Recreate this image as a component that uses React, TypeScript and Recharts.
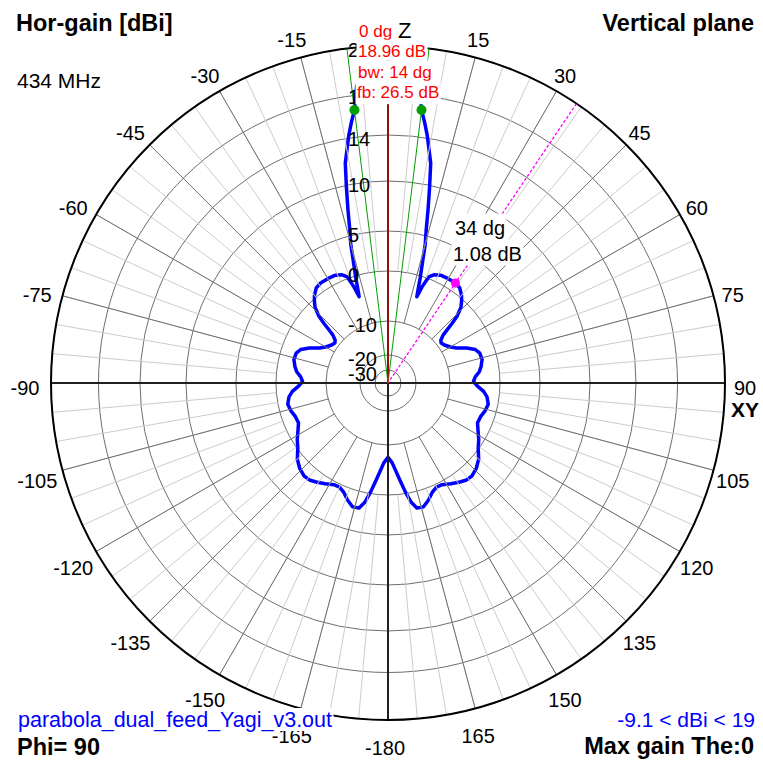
import React from 'react';
import { RadarChart, Radar, PolarGrid, PolarAngleAxis, PolarRadiusAxis } from 'recharts';

// ---------------- data (theta in degrees, gain in dBi) ----------------
const THETA_DEG = [
  -180, -177, -175, -173, -171, -169, -167, -164, -161, -158, -155, -152, -148, -144, -141, -138, -134, -130, -126, -122,
  -118, -114, -110, -106, -102, -98, -95, -92, -89, -86, -83, -80, -76, -72, -69, -66, -63, -60, -56, -53,
  -51, -49, -48, -47, -46, -44, -42, -40, -37, -34, -30, -26, -23, -21, -19.5, -18.5, -18, -17, -16, -15,
  -14, -13, -12, -11, -10, -9, -8, -7, -6.5, -6, -5, -4, -3, -2, -1,
  0, 1, 2, 3, 4, 5, 6, 6.5, 7, 8, 9, 10, 11, 12, 13, 14, 15, 16, 17, 18,
  18.5, 19.5, 21, 23, 26, 30, 34, 37, 40, 42, 44, 46, 47, 48, 49, 51, 53, 56, 60, 63,
  66, 69, 72, 76, 80, 83, 86, 89, 92, 95, 98, 102, 106, 110, 114, 118, 122, 126, 130, 134,
  138, 141, 144, 148, 152, 155, 158, 161, 164, 167, 169, 171, 173, 175, 177, 180,
];
const GAIN_DBI = [
  -7.54, -6.4, -4.8, -2.8, -0.4, 1.2, 2.05, 2.1, 1.5, 0.75, 0.35, 0.4, 0.85, 1.3, 1.6, 1.65, 1.35, 0.8, -0.1, -1.0,
  -2.0, -2.8, -2.7, -2.2, -1.9, -2.4, -3.2, -4.5, -5.3, -4.9, -4.0, -3.5, -3.0, -3.1, -3.7, -5.2, -7.0, -8.0, -8.8, -9.1,
  -8.8, -7.8, -6.5, -4.8, -3.2, -1.4, -0.4, 0.3, 0.9, 1.08, 1.06, 1.0, 0.7, 0.2, -2.0, -4.2, -3.2, -0.3, 1.6, 4.0,
  5.6, 7.6, 9.8, 11.9, 13.0, 14.2, 15.1, 15.96, 16.9, 17.6, 18.2, 18.55, 18.75, 18.88, 18.94,
  18.96, 18.94, 18.88, 18.75, 18.55, 18.2, 17.6, 16.9, 15.96, 15.1, 14.2, 13.0, 11.9, 9.8, 7.6, 5.6, 4.0, 1.6, -0.3, -3.2,
  -4.2, -2.0, 0.2, 0.7, 1.0, 1.06, 1.08, 0.9, 0.3, -0.4, -1.4, -3.2, -4.8, -6.5, -7.8, -8.8, -9.1, -8.8, -8.0, -7.0,
  -5.2, -3.7, -3.1, -3.0, -3.5, -4.0, -4.9, -5.3, -4.5, -3.2, -2.4, -1.9, -2.2, -2.7, -2.8, -2.0, -1.0, -0.1, 0.8, 1.35,
  1.65, 1.6, 1.3, 0.85, 0.4, 0.35, 0.75, 1.5, 2.1, 2.05, 1.2, -0.4, -2.8, -4.8, -6.4, -7.54,
];

// markers (angles on the pattern)
const MAX_GAIN_THETA = [0];
const BW_MARK_THETA = [-7, 7];
const SIDE_MARK_THETA = [34];

// axes / ticks
const ANGLE_LABEL_TICKS = [-180, -165, -150, -135, -120, -105, -90, -75, -60, -45, -30, -15, 15, 30, 45, 60, 75, 90, 105, 120, 135, 150, 165];
const RADIUS_TICKS = [-30, -20, -10, 0, 5, 10, 14, 17, 20];
const AXIS_SPOKES = [-90, 0, 90, 180];
const COARSE_SPOKES = [-165, -150, -135, -120, -105, -90, -75, -60, -45, -30, -15, 0, 15, 30, 45, 60, 75, 90, 105, 120, 135, 150, 165, 180];
const FINE_SPOKES = Array.from({ length: 72 }, (_, i) => -175 + i * 5);

// 4nec2-like gain scale knots (dB -> fraction of outer radius)
const SCALE_DB = [-40, -30, -20, -10, 0, 5, 10, 14, 17, 20];
const SCALE_FRAC = [0, 0.0386, 0.0831, 0.184, 0.3323, 0.451, 0.5994, 0.7359, 0.8591, 1];

// ---------------- layout ----------------
const W = 763;
const H = 761;
const CX = 388;
const CY = 383;
const R = 337;
const FONT = '"Liberation Sans", Arial, Helvetica, sans-serif';

function gainFrac(v: number) {
  if (v <= SCALE_DB[0]) return SCALE_FRAC[0];
  for (let i = 1; i < SCALE_DB.length; i++) {
    if (v <= SCALE_DB[i]) {
      const t = (v - SCALE_DB[i - 1]) / (SCALE_DB[i] - SCALE_DB[i - 1]);
      return SCALE_FRAC[i - 1] + t * (SCALE_FRAC[i] - SCALE_FRAC[i - 1]);
    }
  }
  return SCALE_FRAC[SCALE_FRAC.length - 1];
}

function makeGainScale(): any {
  let dom: any[] = [SCALE_DB[0], SCALE_DB[SCALE_DB.length - 1]];
  let rng: any[] = [0, 1];
  const scale: any = (v: any) => {
    const f = gainFrac(Number(v));
    return Number(rng[0]) + f * (Number(rng[1]) - Number(rng[0]));
  };
  scale.domain = (d?: any) => {
    if (d === undefined) return dom;
    dom = [...d];
    return scale;
  };
  scale.range = (r?: any) => {
    if (r === undefined) return rng;
    rng = [...r];
    return scale;
  };
  scale.copy = () => {
    const s = makeGainScale();
    s.domain(dom);
    s.range(rng);
    return s;
  };
  scale.ticks = () => RADIUS_TICKS;
  scale.tickFormat = () => (v: any) => String(v);
  return scale;
}
const gainScale = makeGainScale();

const rows = THETA_DEG.map((t, i) => ({ theta: t, gain: GAIN_DBI[i] }));

let ctx: CanvasRenderingContext2D | null = null;
function measure(text: string, font: string) {
  if (!ctx) ctx = document.createElement('canvas').getContext('2d');
  if (!ctx) return text.length * 10;
  ctx.font = font;
  return ctx.measureText(text).width;
}

function BoxText(props: any) {
  const { x, y, text, size, weight = 'normal', color = '#000', anchor = 'start', boxTop, boxBottom } = props;
  const w = measure(text, `${weight} ${size}px ${FONT}`);
  const left = anchor === 'end' ? x - w : x;
  return (
    <g>
      {boxTop !== undefined && (
        <rect x={left - 1.5} y={y + boxTop} width={w + 3} height={boxBottom - boxTop} fill="#ffffff" />
      )}
      <text x={x} y={y} fontSize={size} fontWeight={weight} fill={color} textAnchor={anchor} fontFamily={FONT}>
        {text}
      </text>
    </g>
  );
}

const AngleTick = (props: any) => {
  const { x, y, payload } = props;
  return (
    <text x={x - 3} y={y + 5} textAnchor="middle" dominantBaseline="central" fontSize={20} fontFamily={FONT} fill="#000">
      {String(payload.value)}
    </text>
  );
};

const RadiusTick = (props: any) => {
  const { y, payload } = props;
  return (
    <text x={CX - 40} y={y + 11} textAnchor="start" fontSize={20} fontFamily={FONT} fill="#000">
      {String(payload.value)}
    </text>
  );
};

const MarkerDot = (props: any) => {
  const { cx, cy, payload, index } = props;
  const row = payload && payload.payload ? payload.payload : payload;
  const theta = row ? row.theta : undefined;
  if (!Number.isFinite(cx) || !Number.isFinite(cy)) return <g key={`d${index}`} />;
  if (BW_MARK_THETA.includes(theta)) return <circle key={`d${index}`} cx={cx} cy={cy} r={5} fill="#00a000" />;
  if (SIDE_MARK_THETA.includes(theta)) return <circle key={`d${index}`} cx={cx} cy={cy} r={4.5} fill="#ff00ff" />;
  return <g key={`d${index}`} />;
};

export default function App() {
  const rZero = R * gainFrac(0);
  const rMinus10 = R * gainFrac(-10);
  return (
    <div style={{ position: 'absolute', left: 0, top: 0, width: W, height: H, overflow: 'hidden', background: '#fff' }}>
      <RadarChart
        width={W}
        height={H}
        cx={CX}
        cy={CY}
        innerRadius={0}
        outerRadius={R}
        startAngle={270}
        endAngle={-90}
        data={rows}
        margin={{ top: 0, right: 0, bottom: 0, left: 0 }}
      >
        <PolarGrid gridType="circle" radialLines={false} stroke="#6e6e6e" strokeWidth={1} />
        <PolarAngleAxis
          angleAxisId="fine"
          type="number"
          dataKey="theta"
          domain={[-180, 180]}
          ticks={FINE_SPOKES}
          orientation="inner"
          tickSize={R - rZero}
          tick={false}
          axisLine={false}
          stroke="#cccccc"
          tickLine={{ stroke: '#cccccc', strokeWidth: 1 }}
        />
        <PolarAngleAxis
          angleAxisId="coarse"
          type="number"
          dataKey="theta"
          domain={[-180, 180]}
          ticks={COARSE_SPOKES}
          orientation="inner"
          tickSize={R - rMinus10}
          tick={false}
          axisLine={false}
          stroke="#6e6e6e"
          tickLine={{ stroke: '#6e6e6e', strokeWidth: 1 }}
        />
        <PolarAngleAxis
          angleAxisId="axes"
          type="number"
          dataKey="theta"
          domain={[-180, 180]}
          ticks={AXIS_SPOKES}
          orientation="inner"
          tickSize={R}
          tick={false}
          axisLine={false}
          stroke="#202020"
          tickLine={{ stroke: '#202020', strokeWidth: 2 }}
        />
        <PolarAngleAxis
          type="number"
          dataKey="theta"
          domain={[-180, 180]}
          ticks={ANGLE_LABEL_TICKS}
          tickSize={23}
          tick={AngleTick}
          tickLine={false}
          axisLineType="circle"
          stroke="#000"
          axisLine={{ stroke: '#000', strokeWidth: 2 }}
        />
        <PolarAngleAxis
          angleAxisId="bw"
          type="number"
          dataKey="theta"
          domain={[-180, 180]}
          ticks={BW_MARK_THETA}
          orientation="inner"
          tickSize={R}
          tick={false}
          axisLine={false}
          stroke="#00a000"
          tickLine={{ stroke: '#00a000', strokeWidth: 1 }}
        />
        <PolarAngleAxis
          angleAxisId="side"
          type="number"
          dataKey="theta"
          domain={[-180, 180]}
          ticks={SIDE_MARK_THETA}
          orientation="inner"
          tickSize={R}
          tick={false}
          axisLine={false}
          stroke="#ff00ff"
          tickLine={{ stroke: '#ff00ff', strokeWidth: 1.3, strokeDasharray: '3 2' }}
        />
        <PolarAngleAxis
          angleAxisId="peak"
          type="number"
          dataKey="theta"
          domain={[-180, 180]}
          ticks={MAX_GAIN_THETA}
          orientation="inner"
          tickSize={R}
          tick={false}
          axisLine={false}
          stroke="#ff0000"
          tickLine={{ stroke: '#ff0000', strokeWidth: 1 }}
        />
        <Radar
          dataKey="gain"
          stroke="#0000ff"
          strokeWidth={3.5}
          strokeLinejoin="round"
          fill="none"
          fillOpacity={0}
          dot={MarkerDot}
          isAnimationActive={false}
        />
        <PolarRadiusAxis
          angle={90}
          type="number"
          domain={[-40, 20]}
          scale={gainScale}
          ticks={RADIUS_TICKS}
          tick={RadiusTick}
          axisLine={false}
          tickLine={false}
          allowDataOverflow
        />
      </RadarChart>
      <svg width={W} height={H} style={{ position: 'absolute', left: 0, top: 0, pointerEvents: 'none' }}>
        <BoxText x={16} y={31} text="Hor-gain [dBi]" size={23.5} weight="bold" />
        <BoxText x={754} y={31} text="Vertical plane" size={23.5} weight="bold" anchor="end" />
        <BoxText x={17} y={88} text="434 MHz" size={21} />
        <BoxText x={398} y={38} text="Z" size={22} />
        <BoxText x={731} y={417} text="XY" size={21} weight="bold" />
        <BoxText x={359} y={37} text="0 dg" size={17} color="#ff0000" boxTop={-17} boxBottom={4} />
        <BoxText x={358} y={56.7} text="18.96 dB" size={17} color="#ff0000" boxTop={-17} boxBottom={4} />
        <BoxText x={358} y={77.7} text="bw: 14 dg" size={17} color="#ff0000" boxTop={-17} boxBottom={4} />
        <BoxText x={357} y={97.7} text="fb: 26.5 dB" size={17} color="#ff0000" boxTop={-17} boxBottom={6.5} />
        <BoxText x={455} y={235} text="34 dg" size={20} boxTop={-21.5} boxBottom={4.5} />
        <BoxText x={453} y={261} text="1.08 dB" size={20} boxTop={-21.5} boxBottom={4.5} />
        <BoxText x={18} y={727} text="parabola_dual_feed_Yagi_v3.out" size={21.5} color="#0000ff" boxTop={-19} boxBottom={4} />
        <BoxText x={755} y={726.5} text="-9.1 < dBi < 19" size={21} color="#0000ff" anchor="end" />
        <BoxText x={17} y={755} text="Phi= 90" size={23.5} weight="bold" />
        <BoxText x={754} y={754} text="Max gain The:0" size={23.5} weight="bold" anchor="end" />
      </svg>
    </div>
  );
}
